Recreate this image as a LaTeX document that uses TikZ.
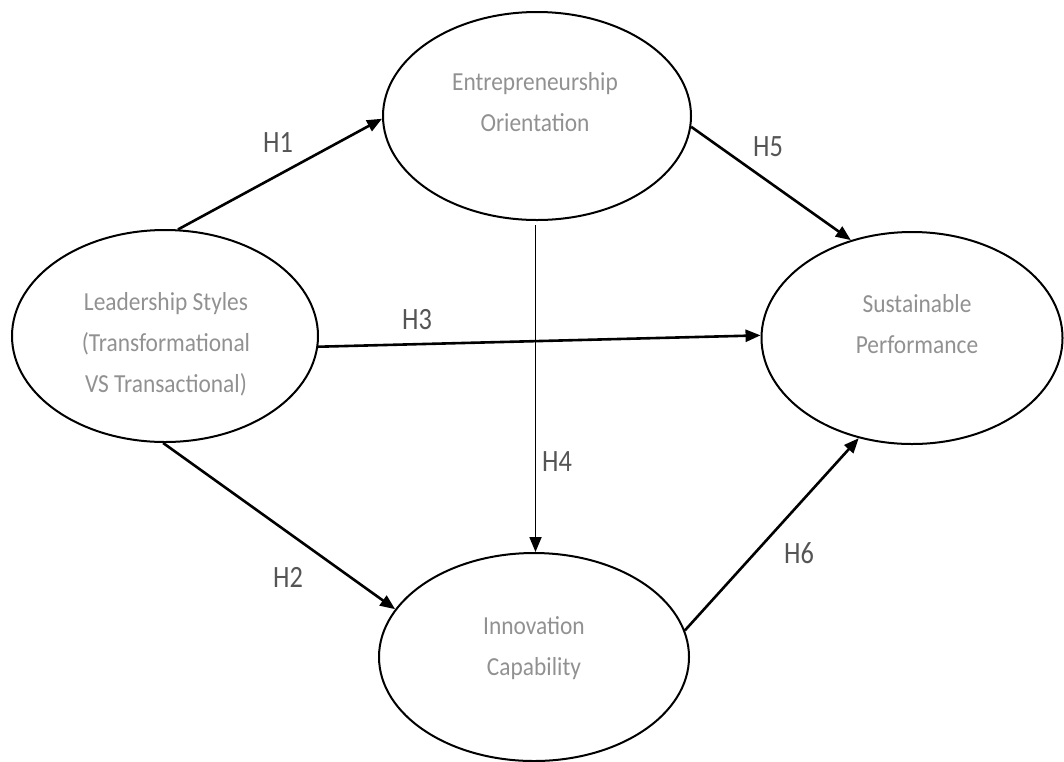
\documentclass[tikz,border=0pt]{standalone}
\usepackage{fontspec}
\setmainfont{Carlito}
\newfontfamily\condfont[FakeStretch=0.85]{Carlito}
\newfontfamily\nodefont[FakeStretch=0.9]{Carlito}
\usetikzlibrary{shapes.geometric,arrows.meta}
\definecolor{nodetext}{RGB}{145,145,145}
\definecolor{labtext}{RGB}{85,85,85}
\tikzset{
  construct/.style={ellipse, draw=black, line width=2pt, inner sep=0pt},
  ctext/.style={align=center, anchor=base, text=nodetext, font=\nodefont\fontsize{26}{41}\selectfont},
  hyp/.style={-{Triangle[length=15pt,width=12pt]}, line width=2.6pt},
  hypthin/.style={-{Triangle[length=15pt,width=12pt]}, line width=1.8pt},
  hlabel/.style={text=labtext, font=\condfont\fontsize{31}{31}\selectfont, inner sep=0pt}
}
\begin{document}
\begin{tikzpicture}[x=1pt,y=-1pt]
\useasboundingbox (0,0) rectangle (1064,761);
% constructs
\node[construct, minimum width=308pt, minimum height=208pt] (eo) at (537,116) {};
\node[construct, minimum width=306pt, minimum height=212pt] (ls) at (165,336) {};
\node[construct, minimum width=301pt, minimum height=212pt] (sp) at (912,338) {};
\node[construct, minimum width=310pt, minimum height=208pt] (ic) at (534,657) {};
% texts (anchored at the baseline of the last line)
\node[ctext] (eot) at (535,131) {Entrepreneurship\\Orientation};
\node[ctext] (lst) at (166,392) {Leadership Styles\\(Transformational\\VS Transactional)};
\node[ctext] (spt) at (917,353) {Sustainable\\Performance};
\node[ctext] (ict) at (534,675) {Innovation\\Capability};
% connectors
\coordinate (h4s) at ([xshift=-1.5pt,yshift=-4pt]eo.south);
\draw[hyp] (ls.83) -- (eo.181);
\draw[hyp] (ls.269) -- (ic.161.6);
\draw[hyp] (ls.356) -- (sp.179);
\draw[hypthin] (h4s) -- (h4s |- ic.north);
\draw[hyp] (eo.356) -- (sp.122.7);
\draw[hyp] (ic.10.3) -- (sp.242.3);
% labels
\node[hlabel] (h1) at (278,143) {H1};
\node[hlabel] (h2) at (288,577) {H2};
\node[hlabel] (h3) at (417,320) {H3};
\node[hlabel] (h4) at (557,462) {H4};
\node[hlabel] (h5) at (768,147) {H5};
\node[hlabel] (h6) at (799,553) {H6};
\end{tikzpicture}
\end{document}
